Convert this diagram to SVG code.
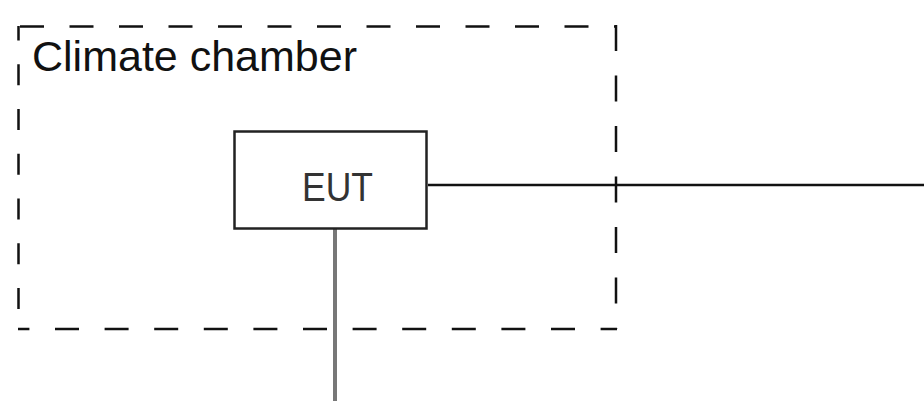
<svg xmlns="http://www.w3.org/2000/svg" width="924" height="401" viewBox="0 0 924 401">
  <style>
    .chamber { stroke: #111; stroke-width: 2.5; fill: none; }
    .label { font-family: "Liberation Sans", Arial, sans-serif; }
    .box { fill: #fff; stroke: #222; stroke-width: 2.5; }
  </style>
  <rect width="924" height="401" fill="#fff"/>

  <!-- Climate chamber: dashed enclosure -->
  <g id="climate-chamber">
    <line class="chamber" x1="20" y1="26.5" x2="616" y2="26.5" stroke-dasharray="24 25.5"/>
    <line class="chamber" x1="18" y1="329" x2="617" y2="329" stroke-dasharray="24 25.6" stroke-dashoffset="12.6"/>
    <line class="chamber" x1="18.5" y1="26" x2="18.5" y2="329" stroke-dasharray="21 23.75" stroke-dashoffset="6.5"/>
    <line class="chamber" x1="616" y1="25" x2="616" y2="329" stroke-dasharray="26 24.5"/>
    <text class="label" x="32" y="71" font-size="43" fill="#111">Climate chamber</text>
  </g>

  <!-- Cables leaving the EUT -->
  <g id="connectors">
    <line x1="428" y1="185" x2="924" y2="185" stroke="#111" stroke-width="2.5"/>
    <line x1="335" y1="229" x2="335" y2="401" stroke="#777" stroke-width="4"/>
  </g>

  <!-- Equipment under test -->
  <g id="eut">
    <rect class="box" x="234.5" y="131.5" width="192" height="97"/>
    <text class="label" x="302" y="201" font-size="41" fill="#333" textLength="71" lengthAdjust="spacingAndGlyphs">EUT</text>
  </g>
</svg>
